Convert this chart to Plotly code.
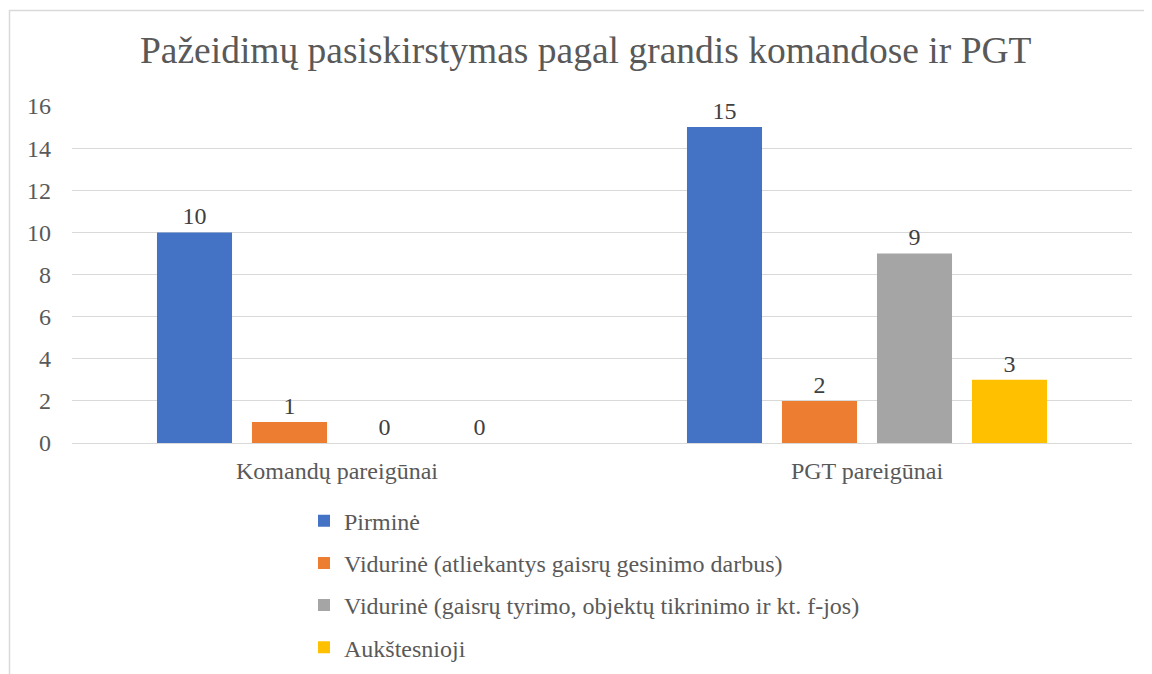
import plotly.graph_objects as go

categories = ["Komandų pareigūnai", "PGT pareigūnai"]
series_names = [
    "Pirminė",
    "Vidurinė (atliekantys gaisrų gesinimo darbus)",
    "Vidurinė (gaisrų tyrimo, objektų tikrinimo ir kt. f-jos)",
    "Aukštesnioji",
]
pirmine = [10, 15]
vidurine_gesinimo = [1, 2]
vidurine_tyrimo = [0, 9]
aukstesnioji = [0, 3]
colors = ["#4472C4", "#ED7D31", "#A5A5A5", "#FFC000"]

FONT = "Liberation Serif"
TXT = "#595959"

fig = go.Figure()
for i, (name, vals) in enumerate(zip(series_names, [pirmine, vidurine_gesinimo, vidurine_tyrimo, aukstesnioji])):
    fig.add_trace(go.Bar(
        name=name, x=categories, y=vals, marker_color=colors[i], marker_line_width=0,
        text=[str(v) for v in vals], textposition="outside", cliponaxis=False,
        textfont=dict(family=FONT, size=24, color="#404040"),
        legendgroup=f"g{i}",
    ))

W, H = 1144, 666  # page body adds an 8px offset
fig.update_layout(
    width=W, height=H,
    paper_bgcolor="white", plot_bgcolor="white",
    font=dict(family=FONT, color=TXT, size=24),
    title=dict(text="Pažeidimų pasiskirstymas pagal grandis komandose ir PGT",
               font=dict(family=FONT, size=37.5, color=TXT),
               x=0.505, xanchor="center", y=1 - 42 / H, yanchor="middle", xref="container", yref="container"),
    margin=dict(l=64, r=20, t=98, b=231, autoexpand=False),
    barmode="group", bargap=0.283, bargroupgap=0.21,
    showlegend=True,
    legend=dict(orientation="v", x=(304 - 72) / 1060, xanchor="left", y=-0.165, yanchor="top",
                font=dict(family=FONT, size=24, color=TXT), tracegroupgap=8,
                itemwidth=30, bgcolor="rgba(0,0,0,0)"),
    shapes=[dict(type="rect", xref="paper", yref="paper",
                 x0=(9.5 - 72) / 1060, x1=1.2, y0=-1.0, y1=(443 - 10.5) / 337,
                 line=dict(color="#D9D9D9", width=1.5), fillcolor="rgba(0,0,0,0)", layer="below")],
)
fig.update_yaxes(range=[0, 16], dtick=2, showgrid=True, gridcolor="#D9D9D9", gridwidth=1,
                 zeroline=True, zerolinecolor="#D9D9D9", zerolinewidth=1, showline=False,
                 tickfont=dict(family=FONT, size=24, color=TXT), ticks="", ticklabelstandoff=20,
                 automargin=False)
fig.update_xaxes(showline=False, ticks="", tickfont=dict(family=FONT, size=24, color=TXT),
                 ticklabelstandoff=11, automargin=False)

fig.write_html("out.html")
